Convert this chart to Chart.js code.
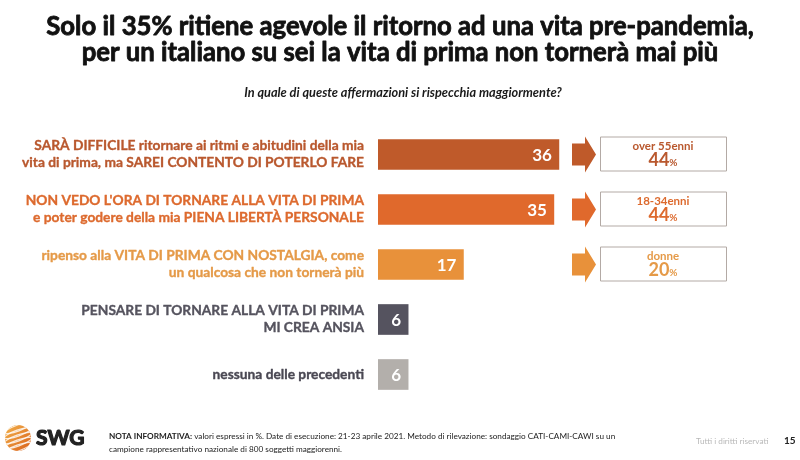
<!DOCTYPE html>
<html>
<head>
<meta charset="utf-8">
<script src="https://cdn.jsdelivr.net/npm/chart.js@4"></script>
<style>
html,body{margin:0;padding:0;background:#fff;}
#wrap{width:800px;height:460px;position:relative;}
</style>
</head>
<body>
<div id="wrap"><canvas id="c" width="800" height="460"></canvas></div>
<script>
const titleLines = ["Solo il 35% ritiene agevole il ritorno ad una vita pre-pandemia,", "per un italiano su sei la vita di prima non tornerà mai più"];
const subtitle = "In quale di queste affermazioni si rispecchia maggiormente?";
const categories = [
  ["SARÀ DIFFICILE ritornare ai ritmi e abitudini della mia", "vita di prima, ma SAREI CONTENTO DI POTERLO FARE"],
  ["NON VEDO L'ORA DI TORNARE ALLA VITA DI PRIMA", "e poter godere della mia PIENA LIBERTÀ PERSONALE"],
  ["ripenso alla VITA DI PRIMA CON NOSTALGIA, come", "un qualcosa che non tornerà più"],
  ["PENSARE DI TORNARE ALLA VITA DI PRIMA", "MI CREA ANSIA"],
  ["nessuna delle precedenti"]
];
const values = [36, 35, 17, 6, 6];
const calloutLabels = ["over 55enni", "18-34enni", "donne"];
const calloutValues = [44, 44, 20];
const footNote = ["NOTA INFORMATIVA:", " valori espressi in %. Date di esecuzione: 21-23 aprile 2021. Metodo di rilevazione: sondaggio CATI-CAMI-CAWI su un", "campione rappresentativo nazionale di 800 soggetti maggiorenni."];
const rightsText = "Tutti i diritti riservati";
const pageNumber = "15";

const barColors = ["#bf5a2a", "#e0692c", "#e8913a", "#55535f", "#b3afab"];
const textColors = ["#b9582e", "#dd6a2e", "#e59a48", "#55535e", "#4a4853"];
const FONT = "Lato, 'Open Sans', sans-serif";

function fitSize(ctx, text, target, prefix) {
  ctx.font = prefix + " 20px " + FONT;
  const w = ctx.measureText(text).width;
  return 20 * target / w;
}
function heavyText(ctx, text, x, y, w) {
  ctx.lineWidth = w;
  ctx.strokeStyle = ctx.fillStyle;
  ctx.lineJoin = "round";
  ctx.strokeText(text, x, y);
  ctx.fillText(text, x, y);
}

const overlay = {
  id: 'overlay',
  afterDraw(chart) {
    const ctx = chart.ctx;
    const xs = chart.scales.x, ys = chart.scales.y;
    ctx.save();
    // title
    ctx.fillStyle = "#111";
    ctx.textAlign = "center";
    ctx.textBaseline = "middle";
    const ts = fitSize(ctx, titleLines[0], 708, "bold");
    ctx.font = "bold " + ts + "px " + FONT;
    heavyText(ctx, titleLines[0], 400, 27, 0.8);
    heavyText(ctx, titleLines[1], 400, 53, 0.8);
    const ss = fitSize(ctx, subtitle, 318, "italic bold");
    ctx.font = "italic bold " + ss + "px " + FONT;
    ctx.fillStyle = "#1a1a1a";
    ctx.fillText(subtitle, 403, 93);

    // category labels
    ctx.textAlign = "right";
    const ls = fitSize(ctx, categories[0][0], 330, "bold");
    ctx.font = "bold " + ls + "px " + FONT;
    categories.forEach((lines, i) => {
      const y = ys.getPixelForValue(i);
      ctx.fillStyle = textColors[i];
      const lh = 17;
      const y0 = y - (lines.length - 1) * lh / 2;
      lines.forEach((l, k) => heavyText(ctx, l, 364, y0 + k * lh, 0.35));
    });

    // value labels inside bars
    ctx.font = "bold 17px " + FONT;
    ctx.fillStyle = "#fff";
    values.forEach((v, i) => {
      const y = ys.getPixelForValue(i);
      const x = xs.getPixelForValue(v);
      ctx.fillText(String(v), x - 7, y + 1);
    });

    // callouts
    calloutLabels.forEach((lab, i) => {
      const y = ys.getPixelForValue(i);
      const c = barColors[i];
      ctx.fillStyle = c;
      ctx.beginPath();
      ctx.moveTo(572, y - 11);
      ctx.lineTo(585, y - 11);
      ctx.lineTo(585, y - 18);
      ctx.lineTo(596, y);
      ctx.lineTo(585, y + 18);
      ctx.lineTo(585, y + 11);
      ctx.lineTo(572, y + 11);
      ctx.closePath();
      ctx.fill();
      ctx.strokeStyle = "#b3aaa5";
      ctx.lineWidth = 1;
      ctx.strokeRect(600.5, y - 17.5, 126, 34);
      ctx.textAlign = "center";
      ctx.fillStyle = textColors[i];
      ctx.font = "bold 11.5px " + FONT;
      ctx.fillText(lab, 663, y - 8);
      const big = String(calloutValues[i]);
      ctx.font = "bold 18px " + FONT;
      const wb = ctx.measureText(big).width;
      ctx.font = "bold 10px " + FONT;
      const wp = ctx.measureText("%").width;
      const sx = 663 - (wb + wp) / 2;
      ctx.textAlign = "left";
      ctx.font = "bold 18px " + FONT;
      ctx.fillText(big, sx, y + 6);
      ctx.font = "bold 10px " + FONT;
      ctx.fillText("%", sx + wb, y + 8);
    });

    // footer logo
    const lx = 18, ly = 438, r = 13;
    const g = ctx.createLinearGradient(lx - r, ly - r, lx + r, ly + r);
    g.addColorStop(0, "#f3b24a");
    g.addColorStop(1, "#d9601c");
    ctx.fillStyle = g;
    ctx.beginPath();
    ctx.arc(lx, ly, r, 0, Math.PI * 2);
    ctx.fill();
    ctx.strokeStyle = "rgba(255,255,255,0.8)";
    ctx.lineWidth = 1.2;
    ctx.save();
    ctx.beginPath();
    ctx.arc(lx, ly, r, 0, Math.PI * 2);
    ctx.clip();
    for (let k = -2; k <= 2; k++) {
      ctx.beginPath();
      ctx.ellipse(lx, ly + k * 5, r * 1.1, 3, -0.35, 0, Math.PI * 2);
      ctx.stroke();
    }
    ctx.restore();
    ctx.textAlign = "left";
    ctx.fillStyle = "#222";
    ctx.font = "bold 21px " + FONT;
    heavyText(ctx, "SWG", 36, 438, 1.2);
    const fs = fitSize(ctx, footNote[0] + footNote[1], 506, "");
    ctx.font = "bold " + fs + "px " + FONT;
    ctx.fillStyle = "#222";
    ctx.fillText(footNote[0], 109, 436);
    const w0 = ctx.measureText(footNote[0]).width;
    ctx.font = fs + "px " + FONT;
    ctx.fillText(footNote[1], 109 + w0, 436);
    ctx.fillText(footNote[2], 109, 449);
    ctx.fillStyle = "#b8b8b8";
    ctx.fillText(rightsText, 696, 441);
    ctx.fillStyle = "#222";
    ctx.font = "bold 10px " + FONT;
    ctx.fillText(pageNumber, 784, 441);
    ctx.restore();
  }
};

new Chart(document.getElementById('c'), {
  type: 'bar',
  data: {
    labels: categories,
    datasets: [{
      data: values,
      backgroundColor: barColors,
      borderWidth: 0,
      barThickness: 30
    }]
  },
  options: {
    indexAxis: 'y',
    responsive: false,
    animation: false,
    layout: { padding: { left: 378, right: 20, top: 127, bottom: 58 } },
    plugins: { legend: { display: false }, tooltip: { enabled: false } },
    scales: {
      x: { display: false, min: 0, max: 80 },
      y: { display: false }
    }
  },
  plugins: [overlay]
});
</script>
</body>
</html>
